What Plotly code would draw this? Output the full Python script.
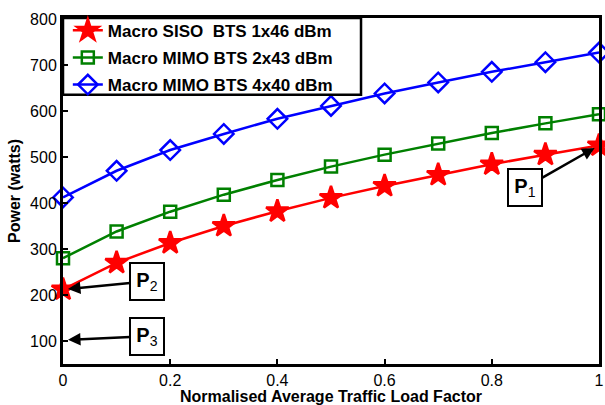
import plotly.graph_objects as go

load = [0, 0.1, 0.2, 0.3, 0.4, 0.5, 0.6, 0.7, 0.8, 0.9, 1.0]
siso_1x46 = [212, 270, 313, 350, 382, 411, 437, 461, 484, 505, 525]
mimo_2x43 = [280, 338, 381, 418, 450, 479, 505, 529, 552, 573, 593]
mimo_4x40 = [412, 470, 515, 550, 583, 611, 638, 662, 685, 706, 727]

names = ["Macro SISO\u00a0 BTS 1x46 dBm", "Macro MIMO BTS 2x43 dBm", "Macro MIMO BTS 4x40 dBm"]
colors = ["#ff0000", "#008000", "#0000ff"]
symbols = ["star", "square-open", "diamond-open"]
sizes = [17, 12, 15]
series = [siso_1x46, mimo_2x43, mimo_4x40]

font_family = "Liberation Sans, Arial, sans-serif"

fig = go.Figure()
for i, (n, c, s, sz, y) in enumerate(zip(names, colors, symbols, sizes, series)):
    fig.add_trace(go.Scatter(
        x=load, y=y, name=n, mode="lines+markers", legendgroup=f"g{i}",
        line=dict(color=c, width=2.5),
        marker=dict(symbol=s, size=sz, color=c, line=dict(color=c, width=2.5)),
        cliponaxis=False,
    ))

ann_style = dict(showarrow=True, arrowhead=2, arrowsize=1, arrowwidth=2.5, arrowcolor="black",
                 bordercolor="black", borderwidth=2, bgcolor="white", width=30, height=33,
                 font=dict(family=font_family, size=20, color="black"), standoff=5)
fig.add_annotation(x=1.0, y=525, ax=-74, ay=42, text="<b>P</b><sub>1</sub>", **ann_style)
fig.add_annotation(x=0, y=212, ax=84, ay=-8, text="<b>P</b><sub>2</sub>", **ann_style)
fig.add_annotation(x=0, y=102, ax=84, ay=-4, text="<b>P</b><sub>3</sub>", **ann_style)

# legend frame
fig.add_shape(type="rect", xref="paper", yref="paper", x0=0, x1=0.556, y0=0.778, y1=1,
              line=dict(color="black", width=2.5), fillcolor="rgba(0,0,0,0)", layer="above")

axis_common = dict(showline=True, linewidth=3, linecolor="black", mirror=True,
                   ticks="inside", ticklen=5, tickwidth=2, tickcolor="black",
                   showgrid=False, zeroline=False, ticklabeloverflow="allow",
                   tickfont=dict(family=font_family, size=16, color="black"))

fig.update_xaxes(range=[0, 1], tickvals=[0, 0.2, 0.4, 0.6, 0.8, 1.0],
                 ticktext=["0", "0.2", "0.4", "0.6", "0.8", "1"],
                 title=dict(text="<b>Normalised Average Traffic Load Factor</b>",
                            font=dict(family=font_family, size=16, color="black"), standoff=4),
                 **axis_common)
fig.update_yaxes(range=[50, 802], tickvals=[100, 200, 300, 400, 500, 600, 700, 800],
                 title=dict(text="<b>Power (watts)</b>",
                            font=dict(family=font_family, size=16, color="black"), standoff=6),
                 **axis_common)

fig.update_layout(
    width=605, height=405,
    margin=dict(l=63, r=1, t=18, b=40),
    plot_bgcolor="white", paper_bgcolor="white",
    showlegend=True,
    legend=dict(x=0.009, y=1.015, xanchor="left", yanchor="top",
                borderwidth=0, bgcolor="rgba(0,0,0,0)",
                font=dict(family=font_family, size=17, color="black", weight="bold"),
                itemwidth=30, tracegroupgap=2),
)

fig.write_html("out.html")
